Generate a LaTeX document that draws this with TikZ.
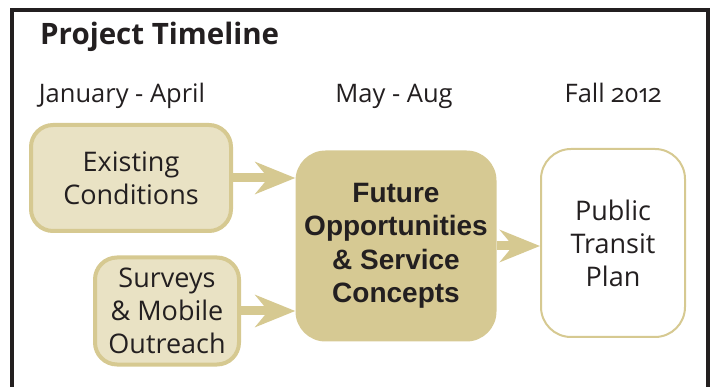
\documentclass[tikz,border=0pt]{standalone}
\usepackage{fontspec}
\setmainfont{Open Sans}[Numbers=OldStyle]
\newfontfamily\arialfont{Liberation Sans}
\usetikzlibrary{arrows.meta}
\definecolor{beigeline}{HTML}{D6C991}
\definecolor{beigelight}{HTML}{E9E2C4}
\definecolor{beigedark}{HTML}{D6C993}
\definecolor{inkc}{HTML}{231F20}
\tikzset{
  lbl/.style={inner sep=0pt, text=inkc, font=\fontsize{25.5}{30}\selectfont},
  inbox/.style={draw=beigeline, line width=4pt, fill=beigelight, rounded corners=22pt, align=center, inner sep=0pt, text=inkc, font=\fontsize{27}{33}\selectfont},
  futbox/.style={fill=beigedark, rounded corners=30pt, align=center, inner sep=0pt, text=inkc, font=\arialfont\bfseries\fontsize{28}{33.5}\selectfont},
  outbox/.style={draw=beigeline, line width=2pt, fill=white, rounded corners=30pt, align=center, inner sep=0pt, text=inkc, font=\fontsize{27}{33}\selectfont},
  flow/.style={draw=beigeline, line width=9pt, -{Stealth[length=40pt, width=32pt, inset=13pt]}}
}
\begin{document}
\begin{tikzpicture}[x=1pt, y=-1pt]
\useasboundingbox (0,0) rectangle (715,387);
\draw[inkc, line width=3.5pt] (12,390) -- (12,10) -- (708,10) -- (708,390);
\node[anchor=base west, inner sep=0pt, text=inkc, font=\bfseries\fontsize{29.5}{30}\selectfont] (title) at (40,45) {Project Timeline};
\node[lbl, anchor=base] (t1) at (122,103) {January - April};
\node[lbl, anchor=base] (t2) at (394,103) {May - Aug};
\node[lbl, anchor=base] (t3) at (613,103) {Fall 2012};
\node[inbox, minimum width=200pt, minimum height=106pt] (exist) at (131,178) {Existing\\Conditions};
\node[inbox, minimum width=144pt, minimum height=107pt] (surv) at (167,311) {Surveys\\\& Mobile\\Outreach};
\node[futbox, minimum width=201pt, minimum height=191pt] (fut) at (396,246) {Future\\Opportunities\\\& Service\\Concepts};
\node[outbox, minimum width=144pt, minimum height=188pt] (pub) at (613,243) {Public\\Transit\\Plan};
\draw[flow] (exist.east) -- (exist.east -| fut.west);
\draw[flow] (surv.east) -- (surv.east -| fut.west);
\draw[flow] (fut.east) -- (fut.east -| pub.west);
\end{tikzpicture}
\end{document}
